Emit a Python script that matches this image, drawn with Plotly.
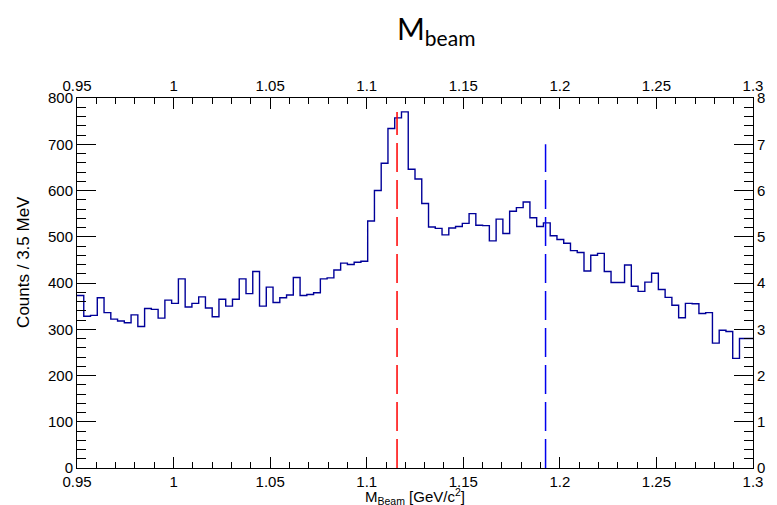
import plotly.graph_objects as go

# ---- data ----
x_min, x_max, n_bins = 0.95, 1.30, 100
counts = [
    373, 328, 330, 368, 336, 322, 318, 314, 331, 306,
    345, 343, 324, 363, 356, 409, 348, 356, 370, 346,
    327, 365, 350, 365, 409, 377, 425, 350, 391, 358,
    368, 374, 412, 373, 375, 379, 409, 411, 428, 443,
    440, 445, 447, 534, 600, 659, 734, 757, 770, 646,
    625, 572, 521, 518, 504, 519, 522, 529, 550, 525,
    524, 491, 538, 507, 555, 563, 575, 541, 522, 530,
    502, 494, 486, 470, 466, 426, 460, 464, 425, 401,
    401, 439, 393, 382, 402, 421, 386, 369, 352, 325,
    356, 355, 334, 336, 270, 298, 295, 237, 280, 280,
]
lambda_mass, lambda_top = 1.1157, 770
sigma_mass, sigma_top = 1.1926, 700

x_tickvals = [0.95, 1.0, 1.05, 1.1, 1.15, 1.2, 1.25, 1.3]
x_ticktext = ["0.95", "1", "1.05", "1.1", "1.15", "1.2", "1.25", "1.3"]
y_tickvals = [0, 100, 200, 300, 400, 500, 600, 700, 800]
y2_tickvals = [0, 1, 2, 3, 4, 5, 6, 7, 8]

bw = (x_max - x_min) / n_bins
edges = [x_min + i * bw for i in range(n_bins + 1)]
ys = counts + [counts[-1]]

FONT = "Liberation Sans"
W, H = 777, 505
ML, MR, MT, MB = 77, 13, 98, 37
pw, ph = W - ML - MR, H - MT - MB


def px_to_paper(px, py):
    return (px - ML) / pw, (H - MB - py) / ph


fig = go.Figure()
fig.add_trace(go.Scatter(x=edges, y=ys, mode="lines", line_shape="hv",
                         line=dict(color="#000099", width=1.4), showlegend=False,
                         hoverinfo="skip"))
fig.add_trace(go.Scatter(x=[lambda_mass, lambda_mass], y=[0, lambda_top], mode="lines",
                         line=dict(color="#ff0000", width=1.5, dash="29px,8px"),
                         showlegend=False, hoverinfo="skip"))
fig.add_trace(go.Scatter(x=[sigma_mass, sigma_mass], y=[0, sigma_top], mode="lines",
                         line=dict(color="#0000ee", width=1.5, dash="29px,8px"),
                         showlegend=False, hoverinfo="skip"))
# invisible anchor trace so the secondary axes are drawn
fig.add_trace(go.Scatter(x=[x_min], y=[0], xaxis="x2", yaxis="y2", mode="markers",
                         marker=dict(opacity=0), showlegend=False, hoverinfo="skip"))

tickfont = dict(family=FONT, size=15, color="black")
common_x = dict(range=[x_min, x_max], tickvals=x_tickvals, ticktext=x_ticktext,
                ticks="inside", ticklen=11, tickcolor="black", tickwidth=1,
                showline=True, linecolor="black", linewidth=1, showgrid=False,
                zeroline=False, tickfont=tickfont,
                minor=dict(dtick=0.01, tick0=0.95, ticks="inside", ticklen=6,
                           tickcolor="black", showgrid=False))
common_y = dict(ticks="inside", ticklen=19, tickcolor="black", tickwidth=1,
                showline=True, linecolor="black", linewidth=1, showgrid=False,
                zeroline=False, tickfont=tickfont)

tx, ty = px_to_paper(442, 30)
xtx, xty = px_to_paper(421, 496)
ytx, yty = px_to_paper(22, 262)

fig.update_layout(
    width=W, height=H,
    margin=dict(l=ML, r=MR, t=MT, b=MB),
    paper_bgcolor="white", plot_bgcolor="white",
    xaxis=dict(**common_x, side="bottom", anchor="y"),
    xaxis2=dict(**common_x, side="top", overlaying="x", anchor="y"),
    yaxis=dict(**common_y, range=[0, 800], tickvals=y_tickvals, side="left",
               minor=dict(dtick=20, ticks="inside", ticklen=9, tickcolor="black",
                          showgrid=False)),
    yaxis2=dict(**common_y, range=[0, 8], tickvals=y2_tickvals, side="right",
                overlaying="y", anchor="x",
                minor=dict(dtick=0.2, ticks="inside", ticklen=9, tickcolor="black",
                           showgrid=False)),
    annotations=[
        dict(text="M<sub>beam</sub>", x=tx, y=ty, xref="paper", yref="paper",
             xanchor="center", yanchor="middle", showarrow=False,
             font=dict(family="Lato", size=30, color="black")),
        dict(text="M<sub>Beam</sub> [GeV/c<sup>2</sup>]", x=xtx, y=xty,
             xref="paper", yref="paper", xanchor="center", yanchor="middle",
             showarrow=False, font=dict(family=FONT, size=15, color="black")),
        dict(text="Counts / 3.5 MeV", x=ytx, y=yty, textangle=-90,
             xref="paper", yref="paper", xanchor="center", yanchor="middle",
             showarrow=False, font=dict(family=FONT, size=17, color="black")),
    ],
)

fig.write_html("out.html")
